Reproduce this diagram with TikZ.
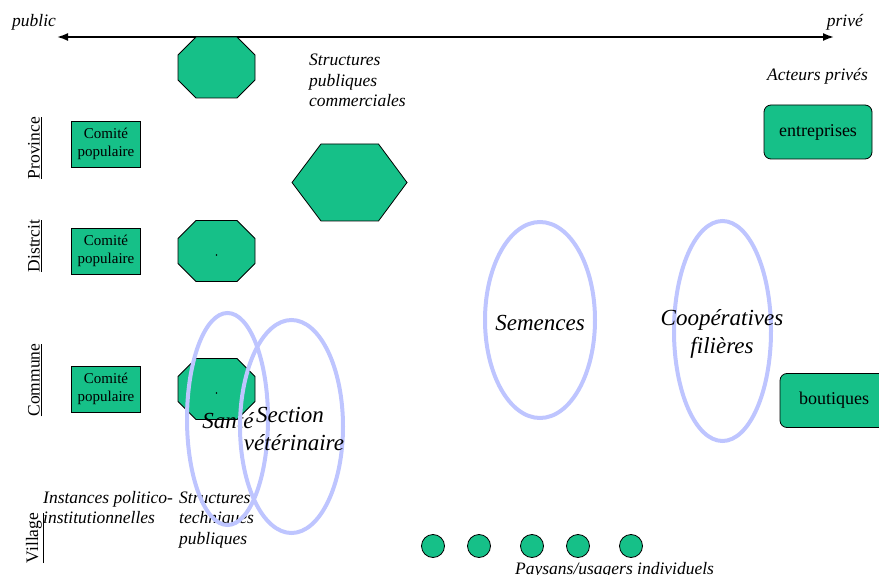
\documentclass[tikz,border=0pt]{standalone}
\usepackage{fontspec}
\setmainfont{Liberation Serif}
\usetikzlibrary{arrows.meta}
\definecolor{gfill}{RGB}{22,192,136}
\definecolor{ering}{RGB}{190,197,255}
\begin{document}
\begin{tikzpicture}[x=1pt,y=-1pt,
  gshape/.style={fill=gfill,draw=black,line width=0.8pt},
  cbox/.style={gshape,minimum width=69pt,minimum height=46pt,inner sep=0pt,align=center,font=\fontsize{15}{18}\selectfont},
  rbox/.style={gshape,rounded corners=7pt,inner sep=0pt,align=center,font=\fontsize{18}{21}\selectfont},
  itxt/.style={inner sep=0pt,font=\fontsize{17.5}{20.5}\selectfont\itshape,anchor=base west},
  bigtxt/.style={inner sep=0pt,font=\fontsize{23}{28}\selectfont\itshape,anchor=base},
  lvl/.style={inner sep=0pt,rotate=90,font=\fontsize{17.5}{20}\selectfont},
  ring/.style={draw=ering,line width=4pt},
  pdot/.style={circle,gshape,minimum size=23pt,inner sep=0pt},
  octo/.pic={\draw[gshape] (-38.5,-12.5) -- (-20.5,-30.5) -- (20.5,-30.5) -- (38.5,-12.5) -- (38.5,12.5) -- (20.5,30.5) -- (-20.5,30.5) -- (-38.5,12.5) -- cycle;},
]
\useasboundingbox (0,0) rectangle (879,575);

% axis
\coordinate (L) at (57,37);
\coordinate (R) at (834,37);
\draw[line width=1.8pt,{Latex[length=11pt,width=8pt]}-{Latex[length=11pt,width=8pt]}] (L) -- (R);
\node[itxt] (pub) at (12,27) {public};
\node[itxt,anchor=base east] (priv) at (863,27) {privé};

% green shapes
\pic at (216.5,67.5) {octo};
\pic at (216.5,251) {octo};
\fill (216.5,255) circle (0.9pt);
\pic at (216.5,389) {octo};
\fill (216.5,393) circle (0.9pt);
\draw[gshape] (292,182.5) -- (321,144) -- (378.5,144) -- (407,182.5) -- (378.5,221) -- (321,221) -- cycle;

\node[cbox] (cp1) at (106,144) {Comité\\populaire};
\node[cbox] (cp2) at (106,251) {Comité\\populaire};
\node[cbox] (cp3) at (106,389) {Comité\\populaire};

\node[rbox,minimum width=108pt,minimum height=54pt] (ent) at (818,132) {entreprises};
\node[rbox,minimum width=108pt,minimum height=54pt] (bout) at (834,400.5) {boutiques};

% texts
\node[itxt] (s1) at (309,66) {Structures};
\node[itxt] (s2) at (309,86.5) {publiques};
\node[itxt] (s3) at (309,107) {commerciales};
\node[itxt] (act) at (767,81) {Acteurs privés};

\node[itxt] (i1) at (43,503) {Instances politico-};
\node[itxt] (i2) at (43,523.5) {institutionnelles};
\node[itxt] (t1) at (179,503) {Structures};
\node[itxt] (t2) at (179,523.5) {techniques};
\node[itxt] (t3) at (179,544) {publiques};
\node[itxt] (pay) at (515,574) {Paysans/usagers individuels};

\node[lvl] (prov) at (35,148) {\underline{Province}};
\node[lvl] (dist) at (35,246) {\underline{Distrcit}};
\node[lvl] (comm) at (35,380) {\underline{Commune}};
\node[lvl] (vill) at (35,538) {\underline{Village}};

\node[bigtxt] (sante) at (228,428) {Santé};

% ellipses
\draw[ring] (227.5,419) ellipse [x radius=40.5, y radius=106];
\draw[ring] (291.5,426.5) ellipse [x radius=51.5, y radius=106.5];
\draw[ring] (540,320) ellipse [x radius=55, y radius=98];
\draw[ring] (722.5,331) ellipse [x radius=48.5, y radius=110];

\node[bigtxt] (sv1) at (290,422) {Section};
\node[bigtxt] (sv2) at (294,450) {vétérinaire};
\node[bigtxt] (sem) at (540,330) {Semences};
\node[bigtxt] (co1) at (722,325) {Coopératives};
\node[bigtxt] (co2) at (722,353) {filières};

% peasants
\node[pdot] (p1) at (433,546) {};
\node[pdot] (p2) at (479,546) {};
\node[pdot] (p3) at (532,546) {};
\node[pdot] (p4) at (578,546) {};
\node[pdot] (p5) at (631,546) {};
\end{tikzpicture}
\end{document}
